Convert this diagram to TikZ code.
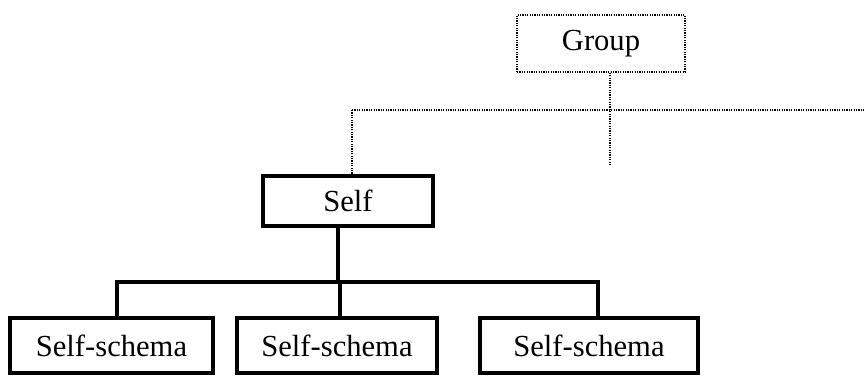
\documentclass[tikz,border=0pt]{standalone}
\usepackage{fontspec}
\setmainfont{Liberation Serif}
\begin{document}
\begin{tikzpicture}[x=0.5pt,y=-0.5pt,
  every node/.style={font=\fontsize{15.3}{18}\selectfont, inner sep=0pt},
  dotbox/.style={draw, dash pattern=on 0.6pt off 0.6pt, line width=0.8pt, minimum width=84pt, minimum height=28.5pt},
  solidbox/.style={draw, line width=2pt, fill=white},
  dotline/.style={dash pattern=on 0.6pt off 0.6pt, line width=0.8pt},
  thickline/.style={line width=2.2pt}]
\useasboundingbox (0,0) rectangle (864,376);
\node[dotbox] (group) at (601,43.5) {Group};
\node[solidbox, minimum width=85pt, minimum height=25pt] (self) at (348,201) {Self};
\node[solidbox, minimum width=101.5pt, minimum height=27.5pt] (s1) at (111.5,345.5) {Self-schema};
\node[solidbox, minimum width=100pt, minimum height=27.5pt] (s2) at (337,345.5) {Self-schema};
\node[solidbox, minimum width=109pt, minimum height=27.5pt] (s3) at (589,345.5) {Self-schema};
% dotted structure
\coordinate (gj) at (610,110);
\coordinate (gend) at (610,165);
\coordinate (lj) at (352,110);
\coordinate (rend) at (864,110);
\draw[dotline] (group.south -| gj) -- (gend);
\draw[dotline] (lj) -- (rend);
\draw[dotline] (lj) -- (self.north -| lj);
% thick tree
\coordinate (sj) at (338,282);
\coordinate (l1) at (117,282);
\coordinate (l2) at (340,282);
\coordinate (l3) at (598,282);
\draw[thickline] (self.south -| sj) -- (sj);
\draw[thickline, line cap=rect] (l1) -- (l3);
\draw[thickline] (l1) -- (s1.north -| l1);
\draw[thickline] (l2) -- (s2.north -| l2);
\draw[thickline] (l3) -- (s3.north -| l3);
\end{tikzpicture}
\end{document}
